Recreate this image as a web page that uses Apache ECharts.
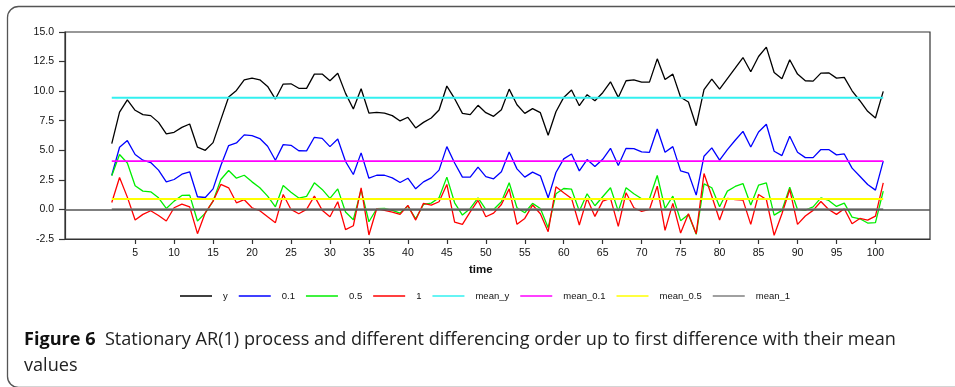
<!DOCTYPE html>
<html>
<head>
<meta charset="utf-8">
<script src="https://cdn.jsdelivr.net/npm/echarts@6/dist/echarts.min.js"></script>
<style>
  html, body { margin: 0; padding: 0; background: #fff; }
  #chart { width: 955px; height: 387px; }
</style>
</head>
<body>
<div id="chart"></div>
<script>
// Time index of the simulated AR(1) sample
const timeIdx = [
  2, 3, 4, 5, 6, 7, 8, 9, 10, 11, 12, 13, 14, 15, 16, 17, 18, 19, 20, 21, 22, 23, 24, 25, 26,
  27, 28, 29, 30, 31, 32, 33, 34, 35, 36, 37, 38, 39, 40, 41, 42, 43, 44, 45, 46, 47, 48, 49, 50,
  51, 52, 53, 54, 55, 56, 57, 58, 59, 60, 61, 62, 63, 64, 65, 66, 67, 68, 69, 70, 71, 72, 73, 74, 75,
  76, 77, 78, 79, 80, 81, 82, 83, 84, 85, 86, 87, 88, 89, 90, 91, 92, 93, 94, 95, 96, 97, 98, 99, 100, 101
];

// Original series y
const ySeries = [
  5.56, 8.23, 9.27, 8.38, 8.01, 7.93, 7.36, 6.38, 6.52, 6.94, 7.22, 5.26, 5.00, 5.65, 7.59, 9.50, 10.06, 10.96, 11.10, 10.96, 10.40, 9.33, 10.60, 10.62, 10.24,
  10.23, 11.44, 11.44, 10.88, 11.52, 9.81, 8.49, 10.20, 8.15, 8.21, 8.15, 7.93, 7.48, 7.79, 6.89, 7.36, 7.73, 8.40, 10.43, 9.36, 8.12, 8.01, 8.80, 8.18,
  7.87, 8.43, 10.17, 8.85, 8.12, 8.52, 8.18, 6.27, 8.26, 9.47, 10.09, 8.77, 9.70, 9.19, 9.87, 10.79, 9.47, 10.88, 10.96, 10.76, 10.76, 12.73, 10.99, 11.44, 9.48,
  9.08, 7.08, 10.12, 11.02, 10.17, 11.05, 11.94, 12.84, 11.64, 12.93, 13.72, 11.58, 11.05, 12.65, 11.44, 10.88, 10.85, 11.52, 11.55, 11.10, 11.16, 10.03, 9.19, 8.29, 7.73, 9.98
];

// Differencing order 0.1
const d01Series = [
  2.89, 5.26, 5.82, 4.64, 4.16, 3.96, 3.32, 2.33, 2.53, 2.98, 3.18, 1.07, 1.01, 1.74, 3.71, 5.40, 5.62, 6.30, 6.24, 5.99, 5.34, 4.16, 5.48, 5.42, 4.96,
  4.95, 6.10, 6.01, 5.31, 5.96, 4.05, 2.95, 4.78, 2.64, 2.89, 2.89, 2.67, 2.28, 2.64, 1.74, 2.33, 2.67, 3.32, 5.31, 3.93, 2.73, 2.73, 3.57, 2.78,
  2.59, 3.18, 4.86, 3.43, 2.73, 3.15, 2.84, 0.98, 3.12, 4.27, 4.69, 3.26, 4.22, 3.63, 4.24, 5.17, 3.71, 5.17, 5.14, 4.86, 4.83, 6.80, 4.83, 5.31, 3.26,
  3.06, 1.21, 4.50, 5.20, 4.16, 5.06, 5.85, 6.60, 5.28, 6.55, 7.20, 4.92, 4.55, 6.18, 4.83, 4.38, 4.38, 5.06, 5.06, 4.61, 4.69, 3.49, 2.81, 2.11, 1.63, 4.08
];

// Differencing order 0.5
const d05Series = [
  2.84, 4.64, 3.93, 2.00, 1.55, 1.49, 0.98, 0.08, 0.70, 1.18, 1.21, -0.98, -0.31, 0.70, 2.53, 3.29, 2.64, 2.89, 2.33, 1.83, 1.12, 0.22, 2.02, 1.46, 0.96,
  1.10, 2.25, 1.69, 0.93, 1.74, -0.22, -0.87, 1.66, -1.04, 0.06, 0.08, -0.08, -0.31, 0.28, -0.79, 0.42, 0.53, 0.98, 2.73, 0.56, -0.48, 0.08, 0.98, 0.00,
  0.00, 0.65, 2.25, 0.14, -0.28, 0.51, 0.08, -1.55, 1.32, 1.77, 1.71, -0.14, 1.32, 0.31, 1.07, 1.83, -0.14, 1.83, 1.32, 0.90, 0.90, 2.87, 0.08, 1.12, -0.95,
  -0.42, -2.11, 2.16, 1.83, 0.22, 1.55, 1.94, 2.19, 0.37, 2.05, 2.25, -0.48, -0.08, 1.88, 0.00, -0.06, 0.22, 0.98, 0.76, 0.25, 0.53, -0.65, -0.79, -1.15, -1.12, 1.55
];

// First difference
const d1Series = [
  0.59, 2.70, 1.04, -0.90, -0.42, -0.11, -0.51, -0.98, 0.14, 0.45, 0.22, -2.05, -0.28, 0.70, 2.11, 1.83, 0.56, 0.82, 0.14, -0.11, -0.62, -1.12, 1.26, 0.00, -0.37,
  0.00, 1.12, -0.06, -0.62, 0.65, -1.71, -1.38, 1.83, -2.16, 0.06, -0.08, -0.22, -0.42, 0.34, -0.90, 0.51, 0.37, 0.65, 2.11, -1.07, -1.26, -0.20, 0.76, -0.62,
  -0.31, 0.42, 1.74, -1.26, -0.76, 0.37, -0.37, -1.88, 1.91, 1.41, 0.93, -1.32, 0.93, -0.59, 0.70, 0.93, -1.43, 1.41, 0.14, -0.17, 0.00, 1.97, -1.77, 0.51, -2.00,
  -0.37, -2.05, 3.04, 1.12, -0.90, 0.93, 0.84, 0.79, -1.26, 1.26, 0.84, -2.19, -0.37, 1.69, -1.26, -0.56, -0.08, 0.67, 0.00, -0.42, 0.06, -1.21, -0.76, -0.90, -0.56, 2.25
];

// Sample means of each series
const meanNames = ['mean_y', 'mean_0.1', 'mean_0.5', 'mean_1'];
const meanValues = [9.44, 4.08, 0.88, 0.03];

const seriesNames = ['y', '0.1', '0.5', '1'];
const seriesColors = ['#000000', '#0000ff', '#00ee00', '#ff0000'];
const meanColors = ['#33f0f0', '#ff00ff', '#ffff00', '#808080'];

const xTicks = [5, 10, 15, 20, 25, 30, 35, 40, 45, 50, 55, 60, 65, 70, 75, 80, 85, 90, 95, 100];

const axisFont = '"Liberation Sans Narrow", "Liberation Sans", Arial, sans-serif';
const captionFont = '"Open Sans", "Noto Sans", sans-serif';

const pairs = arr => timeIdx.map((t, i) => [t, arr[i]]);
const dataSets = [ySeries, d01Series, d05Series, d1Series];

const series = [];
dataSets.forEach((arr, k) => {
  series.push({
    name: seriesNames[k],
    type: 'line',
    data: pairs(arr),
    symbol: 'none',
    z: 3,
    lineStyle: { color: seriesColors[k], width: 1.3 },
    itemStyle: { color: seriesColors[k] },
    markLine: k === 0 ? {
      silent: true,
      symbol: 'none',
      label: { show: false },
      lineStyle: { color: '#555', width: 1.6, type: 'solid' },
      data: [{ yAxis: 0 }]
    } : undefined
  });
});
meanValues.forEach((m, k) => {
  series.push({
    name: meanNames[k],
    type: 'line',
    data: [[timeIdx[0], m], [timeIdx[timeIdx.length - 1], m]],
    symbol: 'none',
    z: 4,
    lineStyle: { color: meanColors[k], width: 1.8 },
    itemStyle: { color: meanColors[k] }
  });
});

const chart = echarts.init(document.getElementById('chart'), null, { renderer: 'canvas' });
chart.setOption({
  animation: false,
  backgroundColor: '#fff',
  grid: {
    left: 65, right: 25, top: 32, bottom: 148,
    show: true, borderColor: '#333', borderWidth: 1.2, backgroundColor: 'transparent'
  },
  xAxis: {
    type: 'value',
    min: -4, max: 107,
    axisLine: { show: true, onZero: false, lineStyle: { color: '#333', width: 1.2 } },
    axisTick: { show: true, length: 5, customValues: xTicks, lineStyle: { color: '#333', width: 1.2 } },
    axisLabel: { customValues: xTicks, margin: 9, color: '#111', fontSize: 10.5, fontFamily: axisFont },
    splitLine: { show: false }
  },
  yAxis: {
    type: 'value',
    min: -2.5, max: 15, interval: 2.5,
    axisLine: { show: true, onZero: false, lineStyle: { color: '#333', width: 1.2 } },
    axisTick: { show: true, length: 6, lineStyle: { color: '#333', width: 1.2 } },
    axisLabel: {
      margin: 11, color: '#111', fontSize: 10.5, fontFamily: axisFont,
      formatter: v => v.toFixed(1)
    },
    splitLine: { show: false }
  },
  legend: {
    left: 175, top: 286,
    icon: 'rect', itemWidth: 32, itemHeight: 1.5, itemGap: 11,
    textStyle: { fontSize: 9.5, fontFamily: axisFont, color: '#111', padding: [0, 0, 0, 6] },
    data: seriesNames.concat(meanNames)
  },
  series: series,
  graphic: [
    {
      type: 'rect', silent: true,
      shape: { x: 7.5, y: 6.5, width: 980, height: 381, r: 11 },
      style: { fill: 'none', stroke: '#555', lineWidth: 1.3 }
    },
    {
      type: 'text', left: 483 - 14, top: 264,
      style: { text: 'time', font: 'bold 11.5px "Liberation Sans", Arial, sans-serif', fill: '#111' }
    },
    {
      type: 'text', left: 24, top: 331,
      style: {
        text: '{b|Figure 6}  Stationary AR(1) process and different differencing order up to first difference with their mean',
        font: '18.1px ' + captionFont,
        fill: '#222',
        rich: { b: { font: 'bold 18.1px ' + captionFont, fill: '#111' } }
      }
    },
    {
      type: 'text', left: 24, top: 357,
      style: { text: 'values', font: '18.1px ' + captionFont, fill: '#222' }
    }
  ]
});
</script>
</body>
</html>
